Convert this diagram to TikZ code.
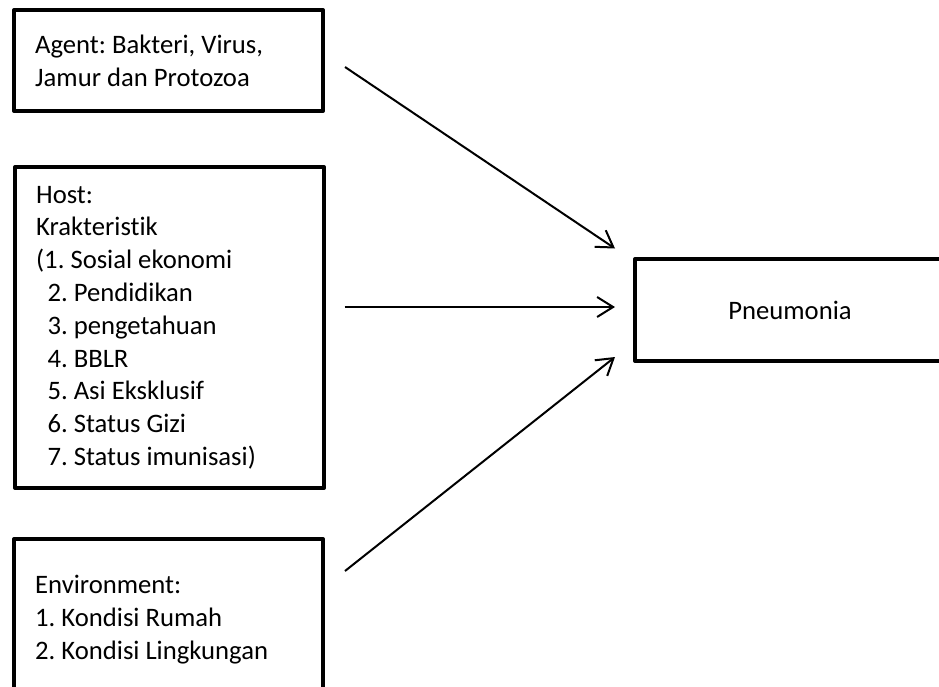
\documentclass[tikz,border=0pt]{standalone}
\usepackage{fontspec}
\setmainfont{Carlito}[Ligatures=NoCommon]
\usetikzlibrary{arrows.meta}

\tikzset{
  box/.style={draw, line width=3pt, line join=round, align=flush left, text width=200pt,
    inner xsep=15.75pt, inner ysep=0pt, minimum width=231.75pt,
    font=\fontsize{20}{24.6}\selectfont\frenchspacing},
  link/.style={line width=1.5pt, -{Straight Barb[length=12pt,width=15pt]}}
}

\begin{document}
\begin{tikzpicture}[x=0.75pt,y=-0.75pt]
        \useasboundingbox (0,0) rectangle (939,686);
        \node[box, minimum height=75.75pt](agent) at (168.5,60.5) {Agent: Bakteri, Virus,\\Jamur dan Protozoa};
        \node[box, minimum height=240.75pt](host) at (169.5,327.5) {Host:\\Krakteristik\\(1. Sosial ekonomi\\
          \hspace*{8.5pt}2. Pendidikan\\\hspace*{8.5pt}3. pengetahuan\\\hspace*{8.5pt}4. BBLR\\
          \hspace*{8.5pt}5. Asi Eksklusif\\\hspace*{8.5pt}6. Status Gizi\\\hspace*{8.5pt}7. Status imunisasi)};
        \node[box, minimum height=120.75pt](env) at (168.5,619.5) {Environment:\\1. Kondisi Rumah\\2. Kondisi Lingkungan};
        \node[box, align=flush center, minimum width=232.5pt, minimum height=76.5pt](pneu) at (790,310) {Pneumonia};
        \draw[link]([shift={(20,6.5)}]agent.east)--([shift={(-18,-8.5)}]pneu.north west);
        \draw[link]([shift={(18.5,-20.5)}]host.east)--([shift={(-18,-3)}]pneu.west);
        \draw[link]([shift={(20,-48.5)}]env.east)--([shift={(-18,-6)}]pneu.south west);
        \end{tikzpicture}
\end{document}
